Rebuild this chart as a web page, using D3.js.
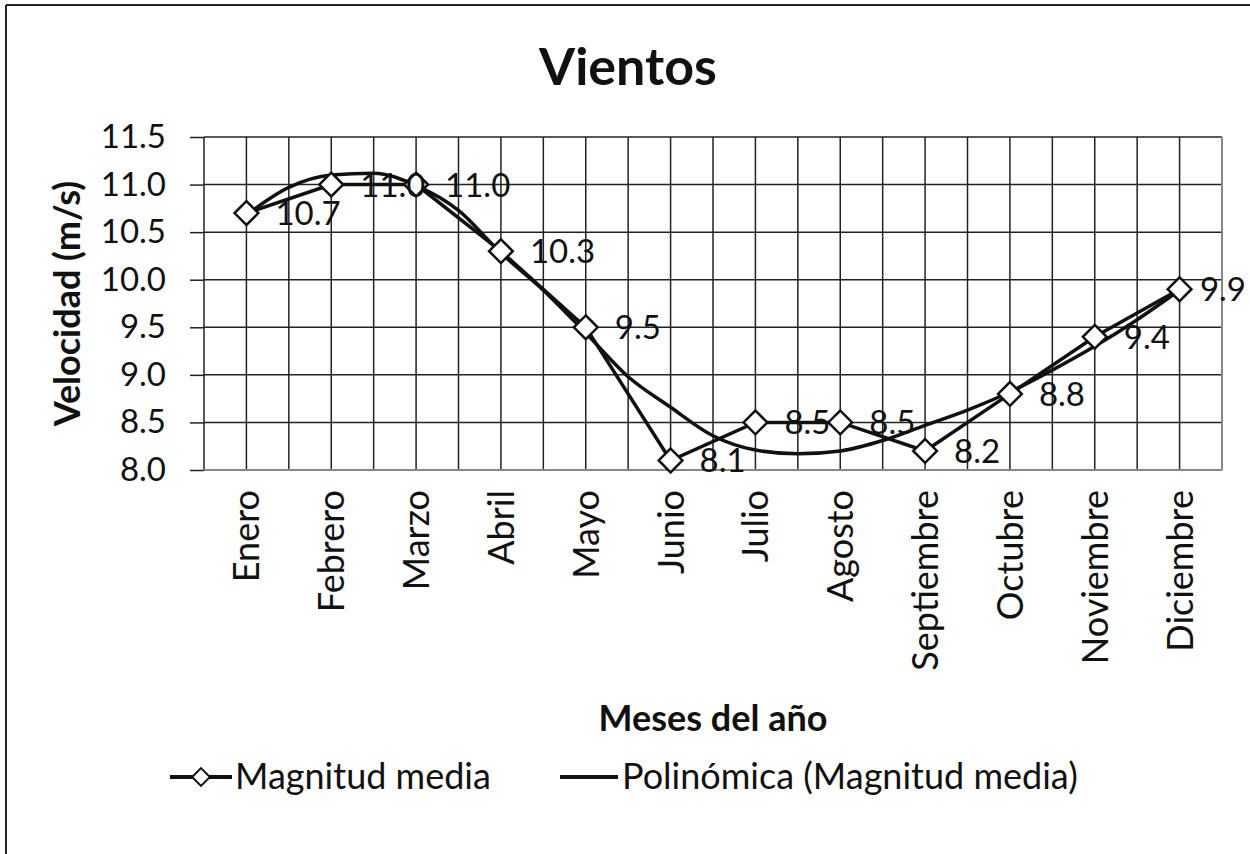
<!DOCTYPE html>
<html>
<head>
<meta charset="utf-8">
<script src="https://cdn.jsdelivr.net/npm/d3@7"></script>
<style>
  body { margin: 0; background: #fff; }
  svg text { font-family: Lato, "Open Sans", sans-serif; fill: #111; }
</style>
</head>
<body>
<div id="chart"></div>
<script>
// Vientos: monthly mean wind speed with polynomial trend
const months = ["Enero", "Febrero", "Marzo", "Abril", "Mayo", "Junio",
    "Julio", "Agosto", "Septiembre", "Octubre", "Noviembre", "Diciembre"];
const magnitud = [10.7, 11.0, 11.0, 10.3, 9.5, 8.1, 8.5, 8.5, 8.2, 8.8, 9.4, 9.9];
// trend line at every half month (index 0..11)
const trendPos = [0, 0.5, 1, 1.5, 2, 2.5, 3, 3.5, 4, 4.5, 5, 5.5, 6, 6.5, 7, 7.5, 8, 8.5, 9, 9.5, 10, 10.5, 11];
const trendVal = [10.68, 10.97, 11.10, 11.12, 10.99, 10.73, 10.28, 9.89, 9.44, 8.98, 8.66, 8.36,
    8.21, 8.17, 8.20, 8.31, 8.47, 8.63, 8.82, 9.05, 9.30, 9.58, 9.89];
const yTicks = [8.0, 8.5, 9.0, 9.5, 10.0, 10.5, 11.0, 11.5];

const W = 1250, H = 854;
const plot = { left: 204, right: 1222, top: 137, bottom: 470 };

const svg = d3.select("#chart").append("svg")
    .attr("width", W).attr("height", H);

svg.append("rect").attr("width", W).attr("height", H).attr("fill", "#fff");
// outer frame (only top and left edges visible)
svg.append("line").attr("x1", 6).attr("x2", W).attr("y1", 5).attr("y2", 5)
    .attr("stroke", "#222").attr("stroke-width", 2);
svg.append("line").attr("x1", 6).attr("x2", 6).attr("y1", 5).attr("y2", H)
    .attr("stroke", "#222").attr("stroke-width", 2);

const x = d3.scalePoint().domain(months).range([plot.left, plot.right]).padding(0.5);
const xi = d3.scaleLinear().domain([0, 11]).range([x(months[0]), x(months[11])]);
const y = d3.scaleLinear().domain([8, 11.5]).range([plot.bottom, plot.top]);

// vertical grid: at every category centre and boundary
const step = x.step();
const vLines = d3.range(0, 25).map(i => plot.left + i * step / 2);
svg.append("g").selectAll("line").data(vLines).join("line")
    .attr("x1", d => d).attr("x2", d => d)
    .attr("y1", plot.top).attr("y2", plot.bottom)
    .attr("stroke", "#222").attr("stroke-width", 1.5);

// horizontal grid + y axis
const yAxis = svg.append("g")
    .attr("transform", `translate(${plot.left},0)`)
    .call(d3.axisLeft(y).tickValues(yTicks).tickFormat(d3.format(".1f"))
        .tickSize(14).tickPadding(24));
yAxis.select(".domain").remove();
yAxis.selectAll(".tick line").attr("stroke", "#222").attr("stroke-width", 1.5);
yAxis.selectAll(".tick text").style("font-size", "33px").attr("fill", "#222");
svg.append("g").selectAll("line").data(yTicks).join("line")
    .attr("x1", plot.left).attr("x2", plot.right)
    .attr("y1", d => y(d)).attr("y2", d => y(d))
    .attr("stroke", "#222").attr("stroke-width", 1.5);
svg.append("line").attr("x1", plot.right).attr("x2", plot.right)
    .attr("y1", plot.top).attr("y2", plot.bottom)
    .attr("stroke", "#888").attr("stroke-width", 2);
svg.append("line").attr("x1", plot.left).attr("x2", plot.right)
    .attr("y1", plot.bottom).attr("y2", plot.bottom)
    .attr("stroke", "#888").attr("stroke-width", 2);

// x labels, rotated
svg.append("g").selectAll("text").data(months).join("text")
    .attr("transform", d => `translate(${x(d) + 13},${plot.bottom + 20}) rotate(-90)`)
    .attr("text-anchor", "end")
    .style("font-size", "36px")
    .text(d => d);

// trend line
const trendLine = d3.line()
    .x(d => xi(d[0]))
    .y(d => y(d[1]))
    .curve(d3.curveMonotoneX);
svg.append("path")
    .datum(trendPos.map((p, i) => [p, trendVal[i]]))
    .attr("fill", "none").attr("stroke", "#111").attr("stroke-width", 3.5)
    .attr("d", trendLine);

// data series
const dataLine = d3.line().x((d, i) => x(months[i])).y(d => y(d));
svg.append("path").datum(magnitud)
    .attr("fill", "none").attr("stroke", "#111").attr("stroke-width", 3.5)
    .attr("d", dataLine);

const diamond = d3.symbol().type(d3.symbolDiamond2).size(360);
svg.append("g").selectAll("path").data(magnitud).join("path")
    .attr("transform", (d, i) => `translate(${x(months[i])},${y(d)})`)
    .attr("d", diamond)
    .attr("fill", "#fff").attr("stroke", "#111").attr("stroke-width", 2.5);

// value labels, pulled back inside the frame when they would overflow
svg.append("g").selectAll("text").data(magnitud).join("text")
    .attr("x", (d, i) => x(months[i]) + 29)
    .attr("y", d => y(d) + 12)
    .style("font-size", "33px")
    .attr("fill", "#333")
    .text(d => d.toFixed(1))
    .each(function () {
        const len = this.getComputedTextLength();
        const x0 = +this.getAttribute("x");
        if (x0 + len > W - 4) this.setAttribute("x", W - 4 - len);
    });

// titles
svg.append("text").attr("x", 628).attr("y", 85).attr("text-anchor", "middle")
    .style("font-size", "52px").style("font-weight", "bold").text("Vientos");
svg.append("text").attr("transform", `translate(80,${(plot.top + plot.bottom) / 2}) rotate(-90)`)
    .attr("text-anchor", "middle")
    .style("font-size", "36px").style("font-weight", "bold").text("Velocidad (m/s)");
svg.append("text").attr("x", (plot.left + plot.right) / 2).attr("y", 731)
    .attr("text-anchor", "middle")
    .style("font-size", "36px").style("font-weight", "bold").text("Meses del año");

// legend
const legY = 777;
const leg1 = svg.append("g").attr("transform", `translate(170,${legY})`);
leg1.append("line").attr("x1", 0).attr("x2", 62).attr("stroke", "#111").attr("stroke-width", 4);
leg1.append("path").attr("transform", "translate(31,0)")
    .attr("d", d3.symbol().type(d3.symbolDiamond2).size(200))
    .attr("fill", "#fff").attr("stroke", "#111").attr("stroke-width", 2);
leg1.append("text").attr("x", 65).attr("y", 12).style("font-size", "36px").text("Magnitud media");

const leg2 = svg.append("g").attr("transform", `translate(560,${legY})`);
leg2.append("line").attr("x1", 0).attr("x2", 58).attr("stroke", "#111").attr("stroke-width", 4);
leg2.append("text").attr("x", 62).attr("y", 12).style("font-size", "36px")
    .text("Polinómica (Magnitud media)");
</script>
</body>
</html>
